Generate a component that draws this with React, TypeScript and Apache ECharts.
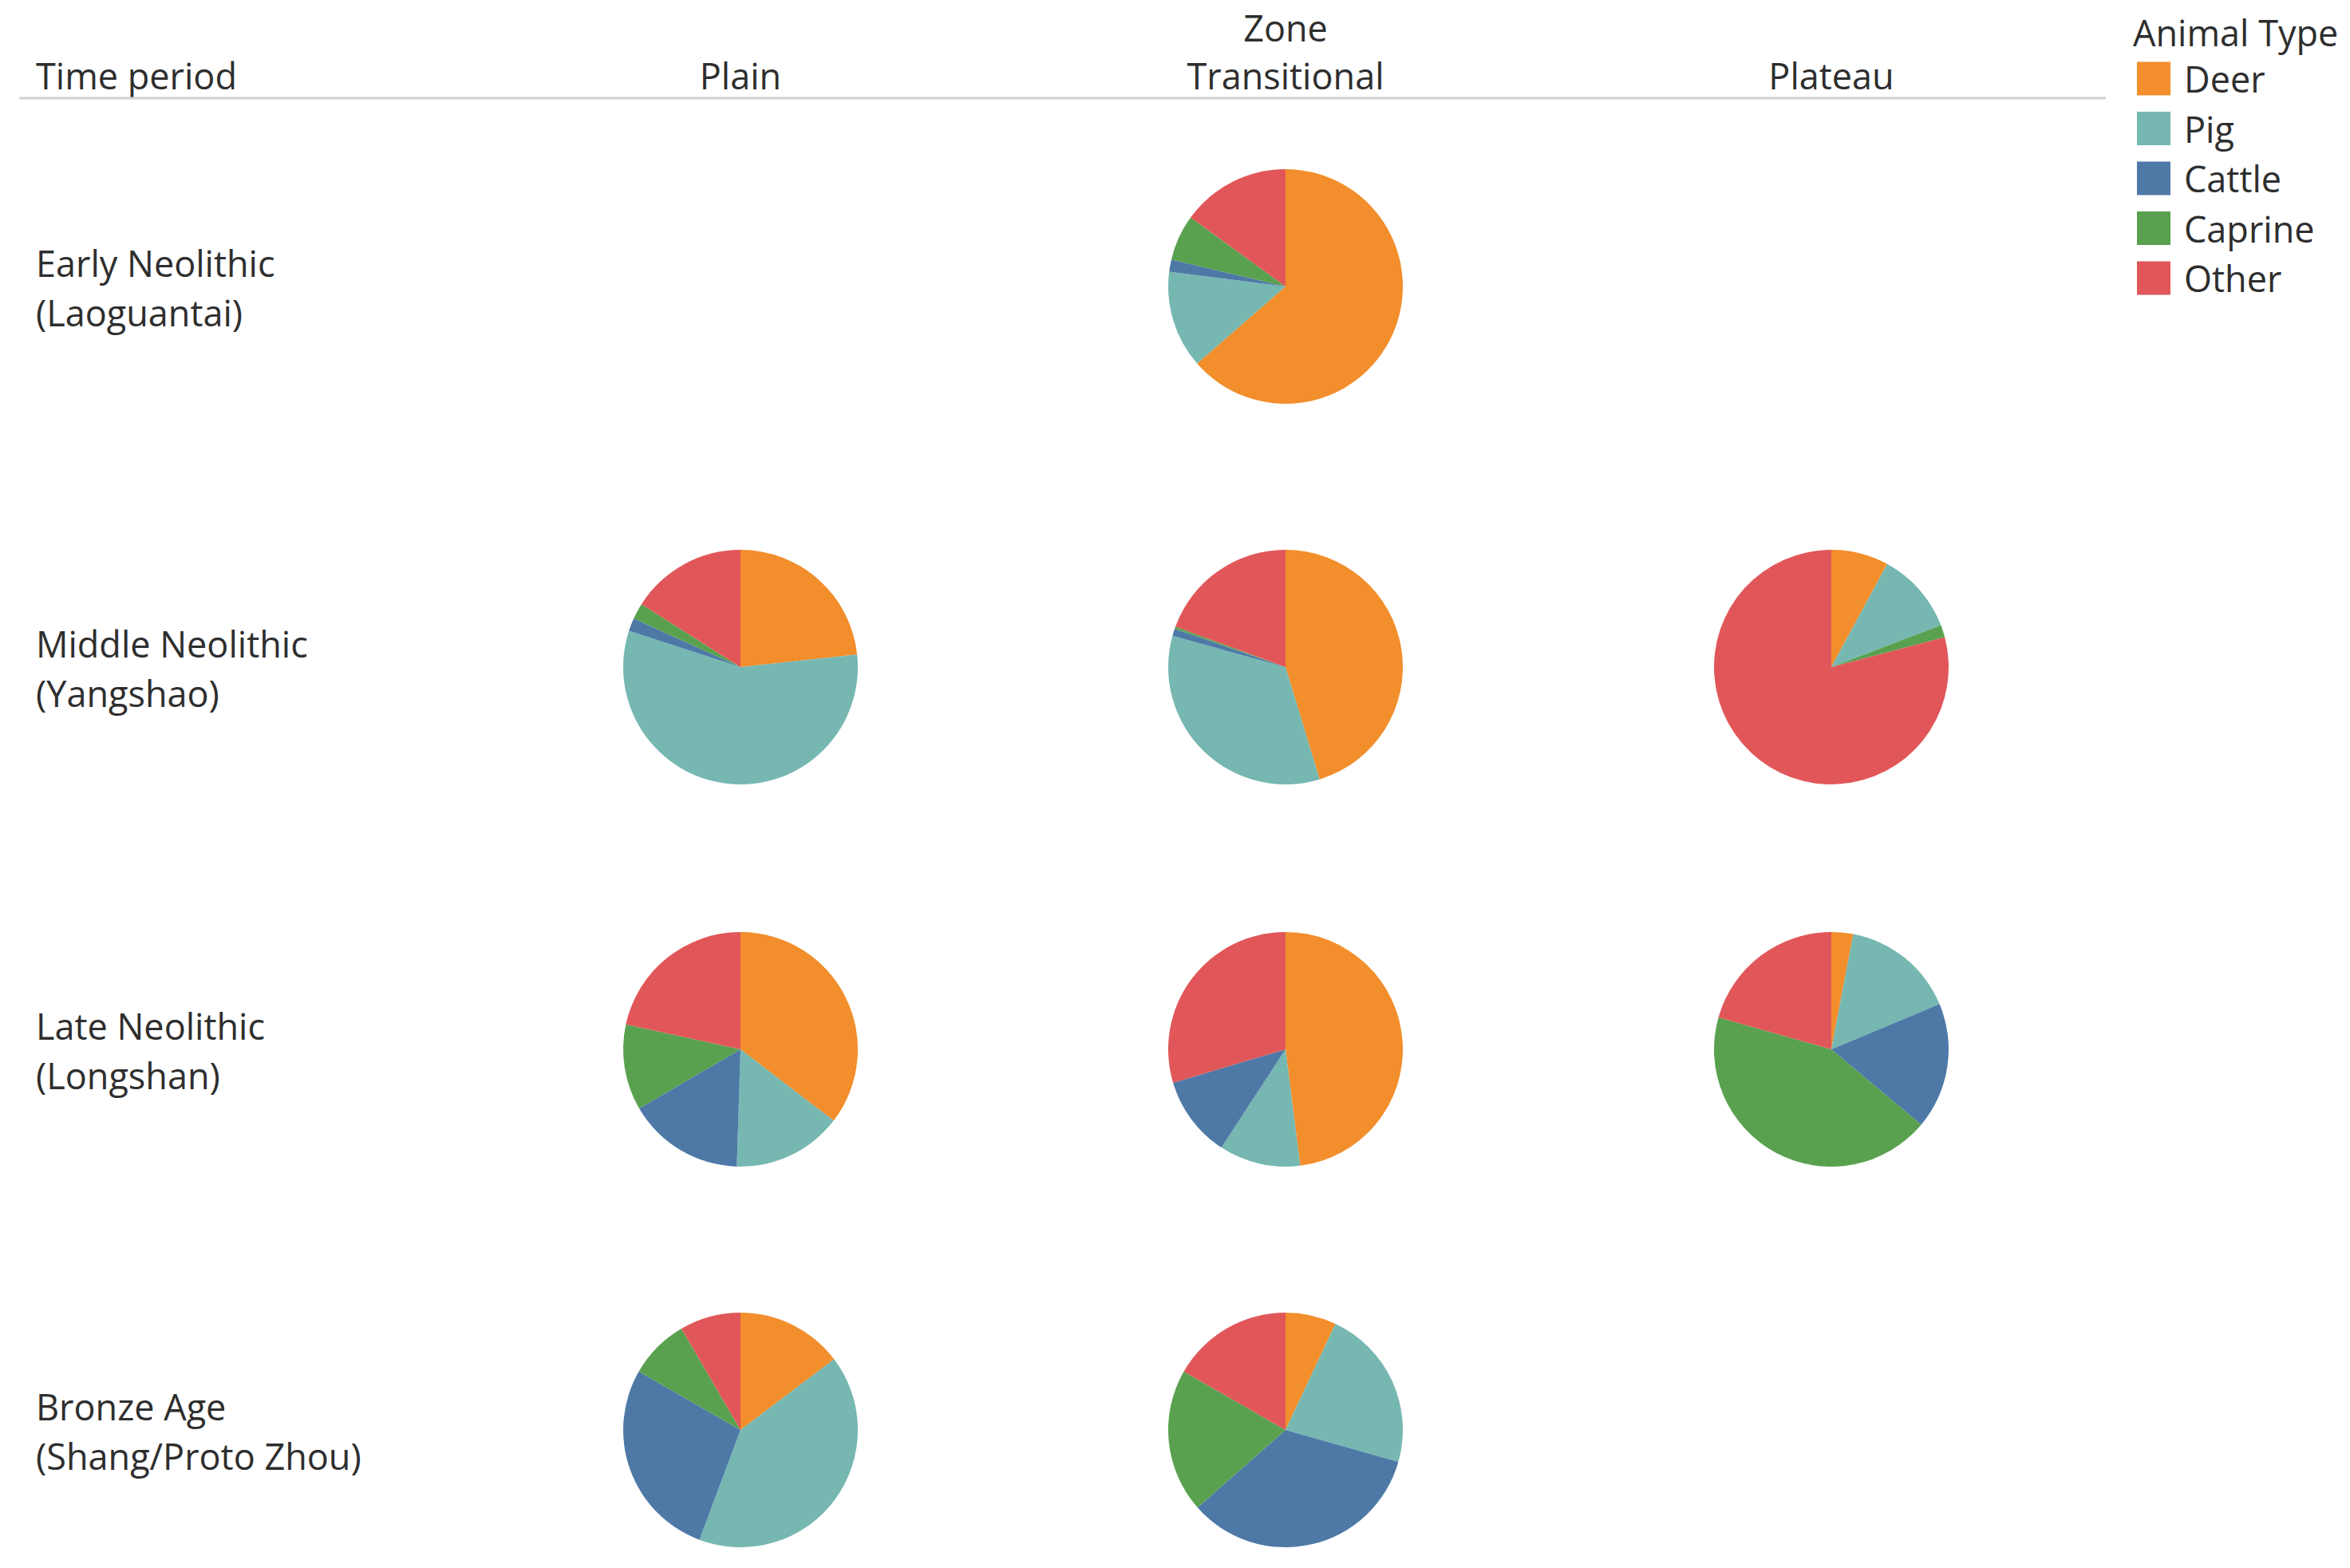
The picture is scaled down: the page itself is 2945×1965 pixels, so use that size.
import React, { useEffect, useRef } from "react";
import * as echarts from "echarts";

// ---- data ----
const animalTypes = ["Deer", "Pig", "Cattle", "Caprine", "Other"];
const animalColors = ["#F28E2B", "#76B7B2", "#4E79A7", "#59A14F", "#E15759"];
const zones = ["Plain", "Transitional", "Plateau"];
const periodLine1 = ["Early Neolithic", "Middle Neolithic", "Late Neolithic", "Bronze Age"];
const periodLine2 = ["(Laoguantai)", "(Yangshao)", "(Longshan)", "(Shang/Proto Zhou)"];

// shares (%) in order Deer, Pig, Cattle, Caprine, Other
const earlyTransitional = [63.6, 13.4, 1.7, 6.3, 15.0];
const middlePlain = [23.3, 56.7, 1.8, 2.2, 16.0];
const middleTransitional = [45.3, 34.0, 1.0, 0.3, 19.4];
const middlePlateau = [7.9, 11.3, 0, 1.7, 79.1];
const latePlain = [35.4, 15.1, 16.1, 11.8, 21.6];
const lateTransitional = [48.0, 11.2, 11.2, 0, 29.6];
const latePlateau = [3.0, 15.7, 17.4, 43.3, 20.6];
const bronzePlain = [14.7, 41.0, 27.6, 8.3, 8.4];
const bronzeTransitional = [7.0, 22.4, 34.1, 19.8, 16.7];

// [periodIndex, zoneIndex, values]
const cells: [number, number, number[]][] = [
  [0, 1, earlyTransitional],
  [1, 0, middlePlain],
  [1, 1, middleTransitional],
  [1, 2, middlePlateau],
  [2, 0, latePlain],
  [2, 1, lateTransitional],
  [2, 2, latePlateau],
  [3, 0, bronzePlain],
  [3, 1, bronzeTransitional],
];

// ---- layout ----
const W = 2945;
const H = 1965;
const colX = [928, 1611, 2295];
const rowY = [359, 836, 1315, 1792];
const R = 147;
const FONT = "'Open Sans', 'Noto Sans', sans-serif";
const FS = 45;
const TXT = "#2e2e2e";

export default function App() {
  const ref = useRef<HTMLDivElement>(null);
  useEffect(() => {
    document.body.style.margin = "0";
    if (!ref.current) return;
    const chart = echarts.init(ref.current, undefined, { renderer: "svg" });

    const series = cells.map(([r, c, vals]) => ({
      type: "pie",
      center: [colX[c], rowY[r]],
      radius: R,
      startAngle: 90,
      clockwise: true,
      label: { show: false },
      labelLine: { show: false },
      emphasis: { disabled: true },
      silent: true,
      itemStyle: { borderWidth: 0 },
      data: animalTypes.map((n, i) => ({
        name: n,
        value: vals[i],
        itemStyle: { color: animalColors[i] },
      })),
    }));

    const txt = (text: string, x: number, y: number, align = "left") => ({
      type: "text",
      x,
      y,
      silent: true,
      style: {
        text,
        fill: TXT,
        fontSize: FS,
        fontFamily: FONT,
        textAlign: align,
        align,
        textVerticalAlign: "middle",
        verticalAlign: "middle",
      },
    });

    const graphics: any[] = [
      txt("Zone", colX[1], 34, "center"),
      txt("Time period", 45, 94),
      ...zones.map((z, i) => txt(z, colX[i], 94, "center")),
      {
        type: "line",
        silent: true,
        shape: { x1: 24, y1: 123, x2: 2639, y2: 123 },
        style: { stroke: "#d0d0d0", lineWidth: 3 },
      },
      txt("Animal Type", 2673, 40),
    ];
    periodLine1.forEach((t, i) => {
      graphics.push(txt(t, 45, rowY[i] - 30));
      graphics.push(txt(periodLine2[i], 45, rowY[i] + 32));
    });

    chart.setOption({
      animation: false,
      backgroundColor: "#ffffff",
      color: animalColors,
      legend: {
        show: true,
        orient: "vertical",
        left: 2678,
        top: 76,
        padding: 0,
        itemWidth: 42,
        itemHeight: 42,
        itemGap: 17.5,
        icon: "rect",
        selectedMode: false,
        data: animalTypes,
        textStyle: {
          color: TXT,
          fontSize: FS,
          fontFamily: FONT,
          padding: [0, 0, 0, 12],
        },
      },
      graphic: graphics,
      series,
    });
    return () => chart.dispose();
  }, []);
  return <div ref={ref} style={{ width: W, height: H }} />;
}
